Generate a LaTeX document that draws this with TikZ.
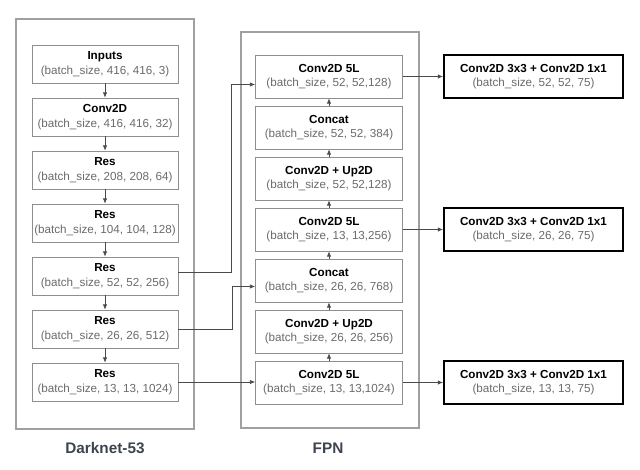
\documentclass[tikz,border=0pt]{standalone}
\usepackage{fontspec}
\setmainfont{Liberation Sans}
\usetikzlibrary{arrows.meta}
\definecolor{boxgray}{HTML}{8E8E8E}
\definecolor{framegray}{HTML}{A0A0A0}
\definecolor{subgray}{HTML}{6A6A6A}
\definecolor{linegray}{HTML}{4A4A4A}
\definecolor{titlegray}{HTML}{3D4450}
\begin{document}
\begin{tikzpicture}[
  layer/.style={draw=boxgray, line width=0.5pt, minimum width=3.65cm, minimum height=0.95cm,
    align=center, inner sep=0pt, font=\fontsize{8.3}{10.3}\selectfont},
  fpnlayer/.style={layer, minimum width=3.675cm, minimum height=1.075cm},
  headlayer/.style={layer, draw=black, line width=1.4pt, minimum width=4.475cm, minimum height=1.075cm},
  frame/.style={draw=framegray, line width=1.1pt},
  conn/.style={draw=linegray, line width=0.5pt, -{Latex[length=1.3mm,width=1.1mm]}},
  caption/.style={text=titlegray, font=\fontsize{10.9}{13}\selectfont\bfseries}
]

  \useasboundingbox (0,0) rectangle (16,11.725);

  \draw[frame] (0.4,1.0) rectangle (4.85,11.25);
  \draw[frame] (6.025,1.025) rectangle (10.475,10.925);

  \node[layer] (inp) at (2.625,10.125) {\textbf{Inputs}\\{\color{subgray}(batch\_size, 416, 416, 3)}};
  \node[layer] (conv) at (2.625,8.8) {\textbf{Conv2D}\\{\color{subgray}(batch\_size, 416, 416, 32)}};
  \node[layer] (res1) at (2.625,7.475) {\textbf{Res}\\{\color{subgray}(batch\_size, 208, 208, 64)}};
  \node[layer] (res2) at (2.625,6.15) {\textbf{Res}\\{\color{subgray}(batch\_size, 104, 104, 128)}};
  \node[layer] (res3) at (2.625,4.825) {\textbf{Res}\\{\color{subgray}(batch\_size, 52, 52, 256)}};
  \node[layer] (res4) at (2.625,3.5) {\textbf{Res}\\{\color{subgray}(batch\_size, 26, 26, 512)}};
  \node[layer] (res5) at (2.625,2.175) {\textbf{Res}\\{\color{subgray}(batch\_size, 13, 13, 1024)}};

  \node[fpnlayer] (c5a) at (8.225,9.8125) {\textbf{Conv2D 5L}\\{\color{subgray}(batch\_size, 52, 52,128)}};
  \node[fpnlayer] (cat1) at (8.225,8.5375) {\textbf{Concat}\\{\color{subgray}(batch\_size, 52, 52, 384)}};
  \node[fpnlayer] (up1) at (8.225,7.2625) {\textbf{Conv2D + Up2D}\\{\color{subgray}(batch\_size, 52, 52,128)}};
  \node[fpnlayer] (c5b) at (8.225,5.9875) {\textbf{Conv2D 5L}\\{\color{subgray}(batch\_size, 13, 13,256)}};
  \node[fpnlayer] (cat2) at (8.225,4.7125) {\textbf{Concat}\\{\color{subgray}(batch\_size, 26, 26, 768)}};
  \node[fpnlayer] (up2) at (8.225,3.4375) {\textbf{Conv2D + Up2D}\\{\color{subgray}(batch\_size, 26, 26, 256)}};
  \node[fpnlayer] (c5c) at (8.225,2.1625) {\textbf{Conv2D 5L}\\{\color{subgray}(batch\_size, 13, 13,1024)}};

  \node[headlayer] (out1) at (13.3375,9.8125) {\textbf{Conv2D 3x3 + Conv2D 1x1}\\{\color{subgray}(batch\_size, 52, 52, 75)}};
  \node[headlayer] (out2) at (13.3375,5.9875) {\textbf{Conv2D 3x3 + Conv2D 1x1}\\{\color{subgray}(batch\_size, 26, 26, 75)}};
  \node[headlayer] (out3) at (13.3375,2.1625) {\textbf{Conv2D 3x3 + Conv2D 1x1}\\{\color{subgray}(batch\_size, 13, 13, 75)}};

  \node[caption] (dnlabel) at (2.625,0.525) {Darknet-53};
  \node[caption] (fpnlabel) at (8.2,0.525) {FPN};

  \draw[conn] (inp) -- (conv);
  \draw[conn] (conv) -- (res1);
  \draw[conn] (res1) -- (res2);
  \draw[conn] (res2) -- (res3);
  \draw[conn] (res3) -- (res4);
  \draw[conn] (res4) -- (res5);

  \draw[conn] (c5c) -- (up2);
  \draw[conn] (up2) -- (cat2);
  \draw[conn] (cat2) -- (c5b);
  \draw[conn] (c5b) -- (up1);
  \draw[conn] (up1) -- (cat1);
  \draw[conn] (cat1) -- (c5a);

  \draw[conn] ([yshift=0.08cm]res3.east) -- ++(1.325,0) |- ([yshift=-0.2cm]c5a.west);
  \draw[conn] (res4.east) -- ++(1.35,0) |- ([yshift=-0.15cm]cat2.west);
  \draw[conn] (res5.east) -- (res5.east -| c5c.west);

  \draw[conn] (c5a) -- (out1);
  \draw[conn] (c5b) -- (out2);
  \draw[conn] (c5c) -- (out3);

\end{tikzpicture}
\end{document}
